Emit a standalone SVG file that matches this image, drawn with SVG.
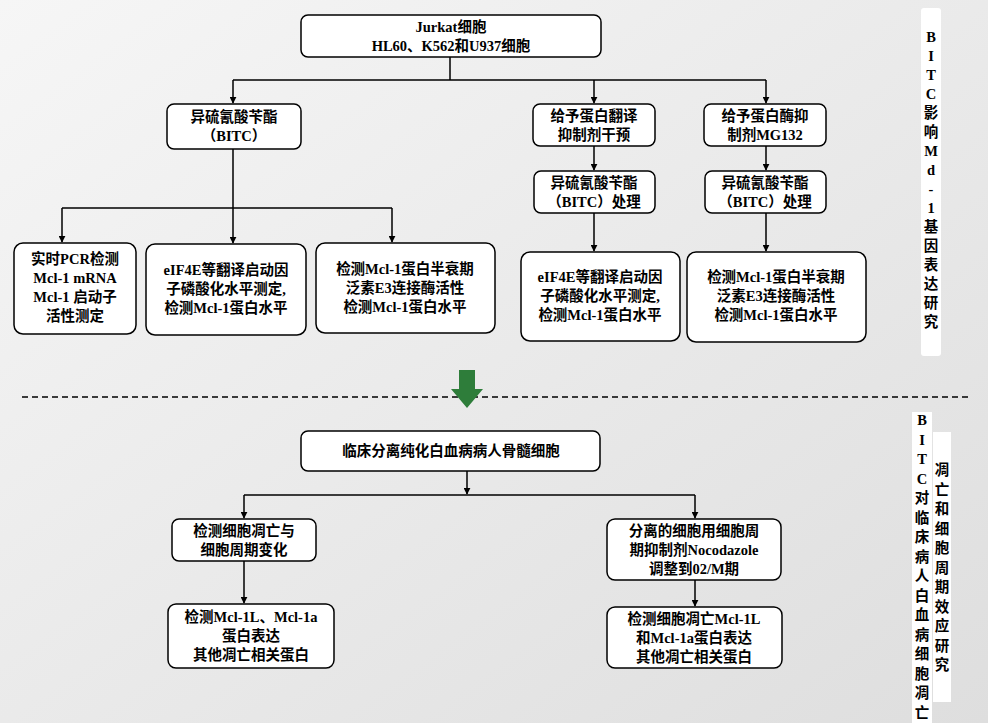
<svg xmlns="http://www.w3.org/2000/svg" width="988" height="723" viewBox="0 0 988 723">
<defs>
<linearGradient id="bg" x1="0" y1="0" x2="1" y2="1"><stop offset="0" stop-color="#f6f6f6"/><stop offset="1" stop-color="#dedede"/></linearGradient>
<marker id="ah" viewBox="0 0 10 10" refX="9" refY="5" markerWidth="7" markerHeight="7" orient="auto" markerUnits="userSpaceOnUse"><path d="M0,0 L10,5 L0,10 z" fill="#000"/></marker>
</defs>
<style>
.b{fill:#fff;stroke:#000;stroke-width:1.5}
.t{font-family:"Liberation Serif","Noto Sans CJK SC",serif;font-weight:bold;font-size:14.5px;text-anchor:middle;fill:#000}
.c{fill:none;stroke:#000;stroke-width:1.5}
.a{marker-end:url(#ah)}
</style>
<rect width="988" height="723" fill="url(#bg)"/>
<g id="connectors">
<path class="c" d="M450,57 V80 M233,80 H766"/>
<path class="c a" d="M233,80 V103"/><path class="c a" d="M594,80 V103"/><path class="c a" d="M766,80 V103"/>
<path class="c" d="M233,149 V208 M62,208 H392"/>
<path class="c a" d="M62,208 V242"/><path class="c a" d="M233,208 V243"/><path class="c a" d="M392,208 V242"/>
<path class="c a" d="M594,146 V170"/><path class="c a" d="M594,213 V251"/>
<path class="c a" d="M766,146 V170"/><path class="c a" d="M766,213 V251"/>
<path d="M22,397 H970" stroke="#000" stroke-width="1.5" stroke-dasharray="6,4" fill="none"/>
<path d="M459,370 H475 V389 H483 L467,408 L451,389 H459 Z" fill="#2e7d3a"/>
<path class="c a" d="M467,471 V494"/>
<path class="c" d="M244,495 H695"/>
<path class="c a" d="M244,495 V518"/><path class="c a" d="M695,495 V518"/>
<path class="c a" d="M244,561 V603"/><path class="c a" d="M695,580 V606"/>
</g>
<g id="n_top"><rect class="b" x="301" y="15" width="300" height="42" rx="7"/><text class="t" x="451" y="32">Jurkat细胞</text><text class="t" x="451" y="51">HL60、K562和U937细胞</text></g>
<g id="n_bitc"><rect class="b" x="167" y="104" width="134" height="45" rx="7"/><text class="t" x="234" y="122">异硫氰酸苄酯</text><text class="t" x="234" y="141">（BITC）</text></g>
<g id="n_trans"><rect class="b" x="533" y="104" width="122" height="42" rx="7"/><text class="t" x="594" y="121">给予蛋白翻译</text><text class="t" x="594" y="140">抑制剂干预</text></g>
<g id="n_mg"><rect class="b" x="704" y="104" width="122" height="42" rx="7"/><text class="t" x="765" y="121">给予蛋白酶抑</text><text class="t" x="765" y="140">制剂MG132</text></g>
<g id="n_pcr"><rect class="b" x="14" y="243" width="122" height="91" rx="9"/><text class="t" x="75" y="264">实时PCR检测</text><text class="t" x="75" y="283">Mcl-1 mRNA</text><text class="t" x="75" y="302">Mcl-1 启动子</text><text class="t" x="75" y="321">活性测定</text></g>
<g id="n_eif1"><rect class="b" x="146" y="244" width="160" height="91" rx="9"/><text class="t" x="226" y="275">eIF4E等翻译启动因</text><text class="t" x="226" y="294">子磷酸化水平测定,</text><text class="t" x="226" y="313">检测Mcl-1蛋白水平</text></g>
<g id="n_half1"><rect class="b" x="316" y="243" width="179" height="90" rx="9"/><text class="t" x="405" y="274">检测Mcl-1蛋白半衰期</text><text class="t" x="405" y="293">泛素E3连接酶活性</text><text class="t" x="405" y="312">检测Mcl-1蛋白水平</text></g>
<g id="n_bitc2"><rect class="b" x="534" y="171" width="121" height="42" rx="7"/><text class="t" x="594" y="188">异硫氰酸苄酯</text><text class="t" x="594" y="207">（BITC）处理</text></g>
<g id="n_bitc3"><rect class="b" x="705" y="171" width="121" height="42" rx="7"/><text class="t" x="765" y="188">异硫氰酸苄酯</text><text class="t" x="765" y="207">（BITC）处理</text></g>
<g id="n_eif2"><rect class="b" x="521" y="252" width="159" height="89" rx="9"/><text class="t" x="600" y="282">eIF4E等翻译启动因</text><text class="t" x="600" y="301">子磷酸化水平测定,</text><text class="t" x="600" y="320">检测Mcl-1蛋白水平</text></g>
<g id="n_half2"><rect class="b" x="687" y="252" width="179" height="90" rx="9"/><text class="t" x="776" y="282">检测Mcl-1蛋白半衰期</text><text class="t" x="776" y="301">泛素E3连接酶活性</text><text class="t" x="776" y="320">检测Mcl-1蛋白水平</text></g>
<g id="n_clin"><rect class="b" x="301" y="431" width="299" height="40" rx="7"/><text class="t" x="451" y="456">临床分离纯化白血病病人骨髓细胞</text></g>
<g id="n_apo"><rect class="b" x="172" y="519" width="144" height="42" rx="7"/><text class="t" x="244" y="536">检测细胞凋亡与</text><text class="t" x="244" y="555">细胞周期变化</text></g>
<g id="n_noco"><rect class="b" x="607" y="519" width="174" height="61" rx="8"/><text class="t" x="694" y="536">分离的细胞用细胞周</text><text class="t" x="694" y="555">期抑制剂Nocodazole</text><text class="t" x="694" y="574">调整到02/M期</text></g>
<g id="n_mcl1"><rect class="b" x="168" y="604" width="166" height="64" rx="8"/><text class="t" x="251" y="622">检测Mcl-1L、Mcl-1a</text><text class="t" x="251" y="641">蛋白表达</text><text class="t" x="251" y="660">其他凋亡相关蛋白</text></g>
<g id="n_mcl2"><rect class="b" x="607" y="607" width="175" height="61" rx="8"/><text class="t" x="694" y="624">检测细胞凋亡Mcl-1L</text><text class="t" x="694" y="643">和Mcl-1a蛋白表达</text><text class="t" x="694" y="662">其他凋亡相关蛋白</text></g>
<g id="side1"><rect x="921" y="8" width="20" height="348" rx="3" fill="#fff"/>
<text class="t" x="931"><tspan x="931" y="42">B</tspan><tspan x="931" y="61">I</tspan><tspan x="931" y="80">T</tspan><tspan x="931" y="99">C</tspan><tspan x="931" y="118">影</tspan><tspan x="931" y="137">响</tspan><tspan x="931" y="156">M</tspan><tspan x="931" y="175">d</tspan><tspan x="931" y="194">-</tspan><tspan x="931" y="213">1</tspan><tspan x="931" y="232">基</tspan><tspan x="931" y="251">因</tspan><tspan x="931" y="270">表</tspan><tspan x="931" y="289">达</tspan><tspan x="931" y="308">研</tspan><tspan x="931" y="327">究</tspan></text></g>
<g id="side2"><rect x="912" y="412" width="20" height="311" fill="#fff"/><rect x="933" y="432" width="18" height="270" fill="#fff"/>
<text class="t"><tspan x="922" y="425">B</tspan><tspan x="922" y="445">I</tspan><tspan x="922" y="464">T</tspan><tspan x="922" y="484">C</tspan><tspan x="922" y="503">对</tspan><tspan x="922" y="523">临</tspan><tspan x="922" y="542">床</tspan><tspan x="922" y="562">病</tspan><tspan x="922" y="581">人</tspan><tspan x="922" y="601">白</tspan><tspan x="922" y="620">血</tspan><tspan x="922" y="640">病</tspan><tspan x="922" y="659">细</tspan><tspan x="922" y="679">胞</tspan><tspan x="922" y="698">凋</tspan><tspan x="922" y="718">亡</tspan></text>
<text class="t"><tspan x="942" y="475">凋</tspan><tspan x="942" y="495">亡</tspan><tspan x="942" y="514">和</tspan><tspan x="942" y="534">细</tspan><tspan x="942" y="553">胞</tspan><tspan x="942" y="573">周</tspan><tspan x="942" y="592">期</tspan><tspan x="942" y="612">效</tspan><tspan x="942" y="631">应</tspan><tspan x="942" y="651">研</tspan><tspan x="942" y="670">究</tspan></text></g>
</svg>
